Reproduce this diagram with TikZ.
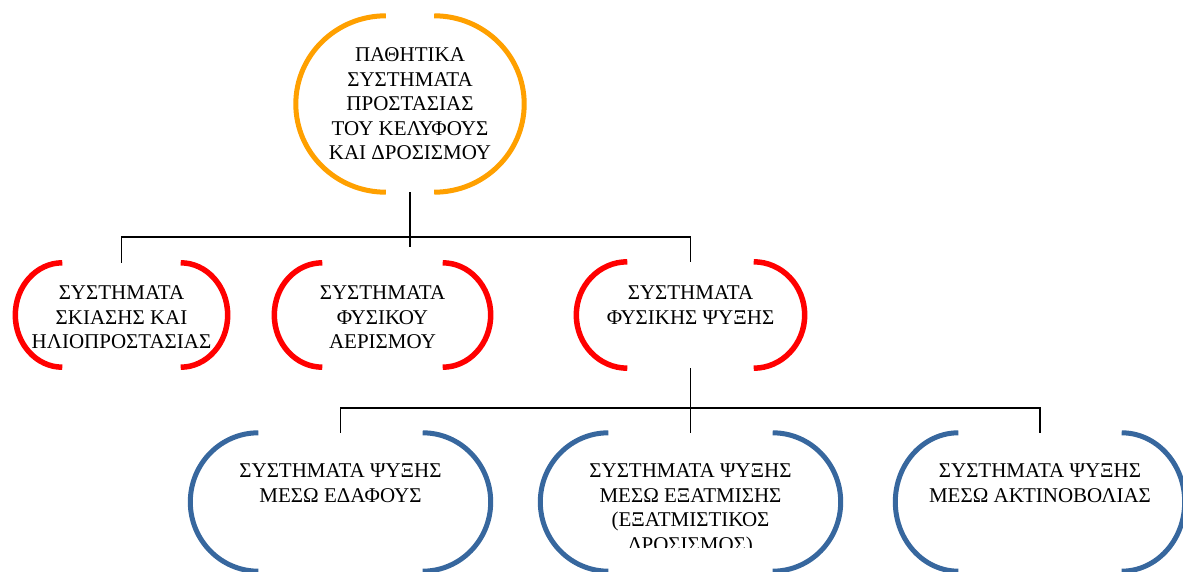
\documentclass[tikz,border=0pt]{standalone}
\usepackage{fontspec}
\setmainfont{Liberation Serif}
\usetikzlibrary{calc}
\definecolor{orangeline}{RGB}{255,160,0}
\definecolor{redline}{RGB}{255,0,0}
\definecolor{blueline}{RGB}{55,103,158}
\tikzset{
  textbox/.style={inner sep=0pt, font=\fontsize{21}{24.5}\selectfont}
}
\tikzset{
  conn/.style={draw=black, line width=1.5pt}
}
\tikzset{
  orangearc/.style={draw=orangeline, line width=5pt},
  redarc/.style={draw=redline, line width=5.5pt},
  bluearc/.style={draw=blueline, line width=5pt}
}
% top-aligned text in a fixed box: height, width, top skip, lines
\newcommand{\boxtext}[4]{\parbox[c][#1][t]{#2}{\centering\vspace*{#3}#4}}
% two round brackets around a node: style, node, x radius
\newcommand{\brackets}[3]{%
  \path[#1] let \p1=(#2.north west), \p2=(#2.south east), \n1={(\y1-\y2)/2} in
    (\x1+#3pt,\y1) arc[start angle=90, end angle=270, x radius=#3pt, y radius=\n1]
    (\x2-#3pt,\y1) arc[start angle=90, end angle=-90, x radius=#3pt, y radius=\n1];}

\begin{document}
\begin{tikzpicture}[x=1pt, y=1pt]
  \useasboundingbox (0,0) rectangle (1183,-572);

  % top
  \node[textbox, minimum width=228pt, minimum height=176pt, align=center] (pathitika) at (410,-104)
    {ΠΑΘΗΤΙΚΑ\\ΣΥΣΤΗΜΑΤΑ\\ΠΡΟΣΤΑΣΙΑΣ\\ΤΟΥ ΚΕΛΥΦΟΥΣ\\ΚΑΙ ΔΡΟΣΙΣΜΟΥ};

  % second row
  \node[textbox] (skiasi) at (121.5,-315) {\boxtext{104pt}{212pt}{23pt}{ΣΥΣΤΗΜΑΤΑ\\ΣΚΙΑΣΗΣ ΚΑΙ\\ΗΛΙΟΠΡΟΣΤΑΣΙΑΣ}};
  \node[textbox] (aerismos) at (382.5,-315) {\boxtext{104pt}{216pt}{23pt}{ΣΥΣΤΗΜΑΤΑ\\ΦΥΣΙΚΟΥ\\ΑΕΡΙΣΜΟΥ}};
  \node[textbox] (psyxi) at (690.5,-315) {\boxtext{106pt}{228pt}{24pt}{ΣΥΣΤΗΜΑΤΑ\\ΦΥΣΙΚΗΣ ΨΥΞΗΣ}};

  % third row
  \node[textbox] (edafos) at (340.5,-502) {\boxtext{138pt}{300pt}{31pt}{ΣΥΣΤΗΜΑΤΑ ΨΥΞΗΣ\\ΜΕΣΩ ΕΔΑΦΟΥΣ}};
  \begin{scope}
    \clip (0,0) rectangle (1183,-547);
    \node[textbox] (exatmisi) at (690.5,-502) {\boxtext{138pt}{300pt}{31pt}{ΣΥΣΤΗΜΑΤΑ ΨΥΞΗΣ\\ΜΕΣΩ ΕΞΑΤΜΙΣΗΣ\\(ΕΞΑΤΜΙΣΤΙΚΟΣ\\ΔΡΟΣΙΣΜΟΣ)}};
  \end{scope}
  \node[textbox] (aktinovolia) at (1040,-502) {\boxtext{138pt}{289pt}{31pt}{ΣΥΣΤΗΜΑΤΑ ΨΥΞΗΣ\\ΜΕΣΩ ΑΚΤΙΝΟΒΟΛΙΑΣ}};

  % brackets
  \brackets{orangearc}{pathitika}{90}
  \brackets{redarc}{skiasi}{47}
  \brackets{redarc}{aerismos}{48}
  \brackets{redarc}{psyxi}{51}
  \brackets{bluearc}{edafos}{68}
  \brackets{bluearc}{exatmisi}{68}
  \brackets{bluearc}{aktinovolia}{63}

  % connectors
  \coordinate (topstem) at (410,-247);
  \coordinate (bus1) at (410,-237);
  \coordinate (bus2) at (690.5,-408);
  \draw[conn] (pathitika.south) -- (topstem);
  \draw[conn] (skiasi.north) |- (bus1) -| (psyxi.north);
  \draw[conn] (psyxi.south) -- (exatmisi.north);
  \draw[conn] (edafos.north) |- (bus2) -| (aktinovolia.north);
\end{tikzpicture}
\end{document}
